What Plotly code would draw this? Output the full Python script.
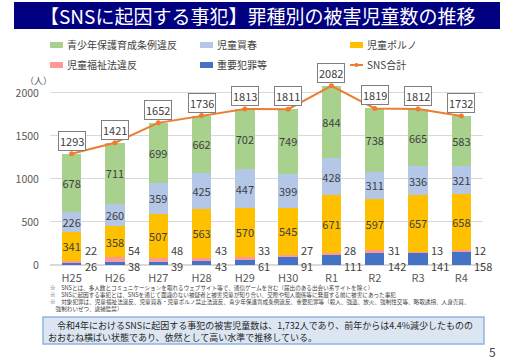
import plotly.graph_objects as go

categories = ["H25", "H26", "H27", "H28", "H29", "H30", "R1", "R2", "R3", "R4"]
juyo = [26, 38, 39, 43, 61, 91, 111, 142, 141, 158]          # 重要犯罪等
fukushi = [22, 54, 48, 43, 33, 27, 28, 31, 13, 12]           # 児童福祉法違反
porno = [341, 358, 507, 563, 570, 545, 671, 597, 657, 658]   # 児童ポルノ
baishun = [226, 260, 359, 425, 447, 399, 428, 311, 336, 321] # 児童買春
jorei = [678, 711, 699, 662, 702, 749, 844, 738, 665, 583]   # 青少年保護育成条例違反
sns_total = [1293, 1421, 1652, 1736, 1813, 1811, 2082, 1819, 1812, 1732]

C_JUYO = "#4472C4"
C_FUKU = "#FF9999"
C_PORNO = "#FFC000"
C_BAI = "#B4C7E7"
C_JOREI = "#A9D18E"
C_SNS = "#ED7D31"
TXT = "#404040"
FONT = "Noto Sans CJK JP"

W, H = 512, 362
L, R, T, B = 50, 29, 80, 97
PW, PH = W - L - R, H - T - B

def px(x):
    return (x - L) / PW

def py(y):
    return (H - B - y) / PH

x = list(range(len(categories)))
BW = 0.45

fig = go.Figure()
def bar(vals, color, name, text=True):
    fig.add_trace(go.Bar(
        x=x, y=vals, name=name, marker=dict(color=color, line=dict(width=0)),
        width=BW, showlegend=False,
        text=vals if text else None,
        textposition="inside" if text else "none",
        insidetextanchor="middle", constraintext="none", textangle=0,
        textfont=dict(size=11, color=TXT, family=FONT),
        hoverinfo="skip"))

bar(juyo, C_JUYO, "重要犯罪等", False)
bar(fukushi, C_FUKU, "児童福祉法違反", False)
bar(porno, C_PORNO, "児童ポルノ")
bar(baishun, C_BAI, "児童買春")
bar(jorei, C_JOREI, "青少年保護育成条例違反")

fig.add_trace(go.Scatter(
    x=x, y=sns_total, mode="lines+markers", name="SNS合計",
    line=dict(color=C_SNS, width=2), marker=dict(size=5, color=C_SNS),
    showlegend=False, cliponaxis=False))

ann = []
for i in x:
    ann.append(dict(x=i, y=0, xref="x", yref="y", text=str(fukushi[i]), showarrow=False,
                    xanchor="left", yanchor="middle", xshift=11, yshift=15,
                    font=dict(size=11, color=TXT, family=FONT)))
    ann.append(dict(x=i, y=0, xref="x", yref="y", text=str(juyo[i]), showarrow=False,
                    xanchor="left", yanchor="middle", xshift=11, yshift=-1,
                    font=dict(size=11, color=TXT, family=FONT)))
    ann.append(dict(x=i, y=sns_total[i], xref="x", yref="y", text=str(sns_total[i]),
                    showarrow=False, xanchor="center", yanchor="bottom", yshift=3,
                    bgcolor="white", bordercolor="#7F7F7F", borderwidth=1, borderpad=1,
                    font=dict(size=11, color=TXT, family=FONT)))

shapes = []
# title bar
shapes.append(dict(type="rect", xref="paper", yref="paper", x0=px(14), x1=px(500),
                   y0=py(29), y1=py(2), fillcolor="#000080", line=dict(width=0), layer="below"))
ann.append(dict(xref="paper", yref="paper", x=px(257), y=py(15), text="【SNSに起因する事犯】罪種別の被害児童数の推移",
                showarrow=False, xanchor="center", yanchor="middle",
                font=dict(size=19, color="white", family=FONT)))

# legend
legend_items = [
    (50, 45, C_JOREI, "青少年保護育成条例違反", "bar"),
    (200, 45, C_BAI, "児童買春", "bar"),
    (350, 45, C_PORNO, "児童ポルノ", "bar"),
    (50, 65, C_FUKU, "児童福祉法違反", "bar"),
    (200, 65, C_JUYO, "重要犯罪等", "bar"),
    (350, 65, C_SNS, "SNS合計", "line"),
]
for lx, ly, col, name, kind in legend_items:
    if kind == "bar":
        shapes.append(dict(type="rect", xref="paper", yref="paper", x0=px(lx), x1=px(lx + 13),
                           y0=py(ly + 3), y1=py(ly - 3), fillcolor=col, line=dict(width=0)))
    else:
        shapes.append(dict(type="line", xref="paper", yref="paper", x0=px(lx), x1=px(lx + 13),
                           y0=py(ly), y1=py(ly), line=dict(color=col, width=2)))
        shapes.append(dict(type="circle", xref="paper", yref="paper", x0=px(lx + 4.5), x1=px(lx + 8.5),
                           y0=py(ly + 2), y1=py(ly - 2), fillcolor=col, line=dict(width=0)))
    ann.append(dict(xref="paper", yref="paper", x=px(lx + 15), y=py(ly), text=name, showarrow=False,
                    xanchor="left", yanchor="middle", font=dict(size=10, color=TXT, family=FONT)))

ann.append(dict(xref="paper", yref="paper", x=px(38), y=py(80), text="（人）", showarrow=False,
                xanchor="center", yanchor="middle", font=dict(size=9, color="#595959", family=FONT)))

notes = [
    "※　SNSとは、多人数とコミュニケーションを取れるウェブサイト等で、通信ゲームを含む（届出のある出会い系サイトを除く）",
    "※　SNSに起因する事犯とは、SNSを通じて面識のない被疑者と被害児童が知り合い、交際や知人関係等に発展する前に被害にあった事犯",
    "※　対象犯罪は、児童福祉法違反、児童買春・児童ポルノ禁止法違反、青少年保護育成条例違反、重要犯罪等（殺人、強盗、放火、強制性交等、略取誘拐、人身売買、",
    "　強制わいせつ、逮捕監禁）",
]
for k, t in enumerate(notes):
    ann.append(dict(xref="paper", yref="paper", x=px(48), y=py(288 + k * 7.0), text=t, showarrow=False,
                    xanchor="left", yanchor="middle", font=dict(size=5.6, color=TXT, family=FONT)))

shapes.append(dict(type="rect", xref="paper", yref="paper", x0=px(43), x1=px(484),
                   y0=py(344), y1=py(317), fillcolor="#DCE6F2", line=dict(color="#8EB4E3", width=1.5)))
ann.append(dict(xref="paper", yref="paper", x=px(46), y=py(331),
                text="　令和4年におけるSNSに起因する事犯の被害児童数は、1,732人であり、前年からは4.4%減少したものの<br>おおむね横ばい状態であり、依然として高い水準で推移している。",
                showarrow=False, xanchor="left", yanchor="middle", align="left",
                font=dict(size=9, color="#262626", family=FONT)))
ann.append(dict(xref="paper", yref="paper", x=px(492), y=py(351), text="5", showarrow=False,
                xanchor="center", yanchor="middle", font=dict(size=12, color=TXT, family=FONT)))

fig.update_layout(
    width=W, height=H, margin=dict(l=L, r=R, t=T, b=B),
    barmode="stack", plot_bgcolor="white", paper_bgcolor="white",
    font=dict(family=FONT, color=TXT),
    xaxis=dict(range=[-0.5, len(categories) - 0.5], tickvals=x, ticktext=categories,
               showgrid=False, zeroline=False, showline=False,
               ticks="outside", ticklen=3, tickcolor="rgba(0,0,0,0)",
               tickfont=dict(size=11, color="#595959", family=FONT)),
    yaxis=dict(range=[0, 2150], tickvals=[0, 500, 1000, 1500, 2000], showgrid=True,
               gridcolor="#D9D9D9", gridwidth=1, zeroline=True, zerolinecolor="#D9D9D9",
               showline=False, ticks="outside", ticklen=8, tickcolor="rgba(0,0,0,0)",
               tickfont=dict(size=10.5, color="#595959", family=FONT)),
    annotations=ann, shapes=shapes, showlegend=False,
)

fig.write_html("out.html", config={"displayModeBar": False},
               post_script="document.body.style.margin='0';document.body.style.overflow='hidden';")
